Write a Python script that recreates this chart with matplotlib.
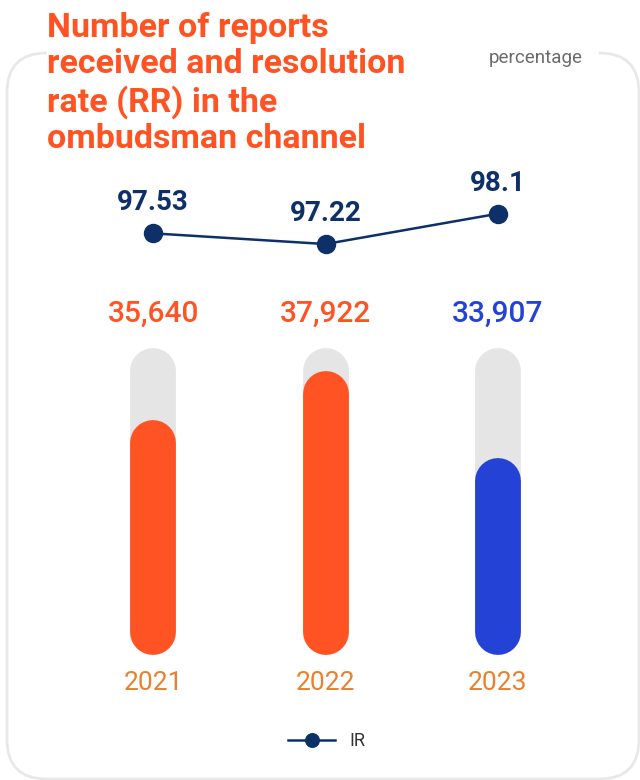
import matplotlib.pyplot as plt
from matplotlib.patches import FancyBboxPatch, Rectangle

# Dados
anos = ['2021', '2022', '2023']
relatos = [35640, 37922, 33907]
taxa_ir = [97.53, 97.22, 98.1]
cores_barras = ['#FF5323', '#FF5323', '#2443D6']
cores_rotulos = ['#FF5323', '#FF5323', '#2443D6']

LARANJA = '#FF5323'
AZUL_ESCURO = '#0D3068'
CINZA_TRILHO = '#E5E5E5'
BASE = 26900        # base do eixo das barras
TOPO_TRILHO = 39000 # topo do trilho cinza

plt.rcParams['font.family'] = ['Roboto', 'DejaVu Sans']

fig = plt.figure(figsize=(6.4, 7.8), dpi=100)
W, H = 640, 780

def fx(px):
    return px / W

def fy(py):
    return 1 - py / H

# Moldura arredondada
moldura = FancyBboxPatch((fx(7), fy(779)), fx(632), (779 - 53) / H,
                         boxstyle='round,pad=0,rounding_size=0.062',
                         transform=fig.transFigure, fill=False,
                         edgecolor='#E8E8E8', linewidth=2, mutation_aspect=W / H)
fig.patches.append(moldura)
# Abertura na borda superior (titulo e "percentage")
fig.patches.append(Rectangle((fx(47), fy(60)), fx(599 - 47), 14 / H,
                             transform=fig.transFigure, facecolor='white',
                             edgecolor='none'))

# Titulo
fig.text(fx(47), fy(12), 'Number of reports\nreceived and resolution\nrate (RR) in the\nombudsman channel',
         ha='left', va='top', fontsize=24.5, color=LARANJA, fontweight='semibold',
         linespacing=1.17)
fig.text(fx(536), fy(58), 'percentage', ha='center', va='center',
         fontsize=13.5, color='#6B6B6B')

# Eixo das barras
ax = fig.add_axes([fx(67), fy(632), fx(517), (632 - 371) / H])
x = range(len(anos))
for i in x:
    ax.plot([i, i], [BASE, TOPO_TRILHO], color=CINZA_TRILHO, linewidth=33,
            solid_capstyle='round', clip_on=False, zorder=1)
    ax.plot([i, i], [BASE, relatos[i]], color=cores_barras[i], linewidth=33,
            solid_capstyle='round', clip_on=False, zorder=2)
    ax.annotate(f'{relatos[i]:,}', (i, TOPO_TRILHO), xytext=(0, 41),
                textcoords='offset points', ha='center', va='center',
                fontsize=21.5, color=cores_rotulos[i], fontweight='medium')
    ax.annotate(anos[i], (i, BASE), xytext=(0, -37), textcoords='offset points',
                ha='center', va='center', fontsize=19, color='#E8802C')
ax.set_xlim(-0.5, 2.5)
ax.set_ylim(BASE, TOPO_TRILHO)
ax.axis('off')

# Eixo da linha (IR)
ax2 = fig.add_axes([fx(67), fy(280), fx(517), 100 / H])
linha, = ax2.plot(list(x), taxa_ir, color=AZUL_ESCURO, linewidth=1.8, marker='o',
                  markersize=13, clip_on=False, label='IR')
for i in x:
    ax2.annotate(f'{taxa_ir[i]:g}', (i, taxa_ir[i]), xytext=(0, 22),
                 textcoords='offset points', ha='center', va='center',
                 fontsize=20, color=AZUL_ESCURO, fontweight='semibold')
ax2.set_xlim(-0.5, 2.5)
ax2.set_ylim(96.177, 99.078)
ax2.axis('off')

# Legenda
fig.legend(handles=[linha], loc='center', bbox_to_anchor=(fx(327), fy(741)),
           frameon=False, fontsize=13, handlelength=2.6, markerscale=0.75,
           labelcolor='#333333')

fig.savefig('out.png', dpi=100)
